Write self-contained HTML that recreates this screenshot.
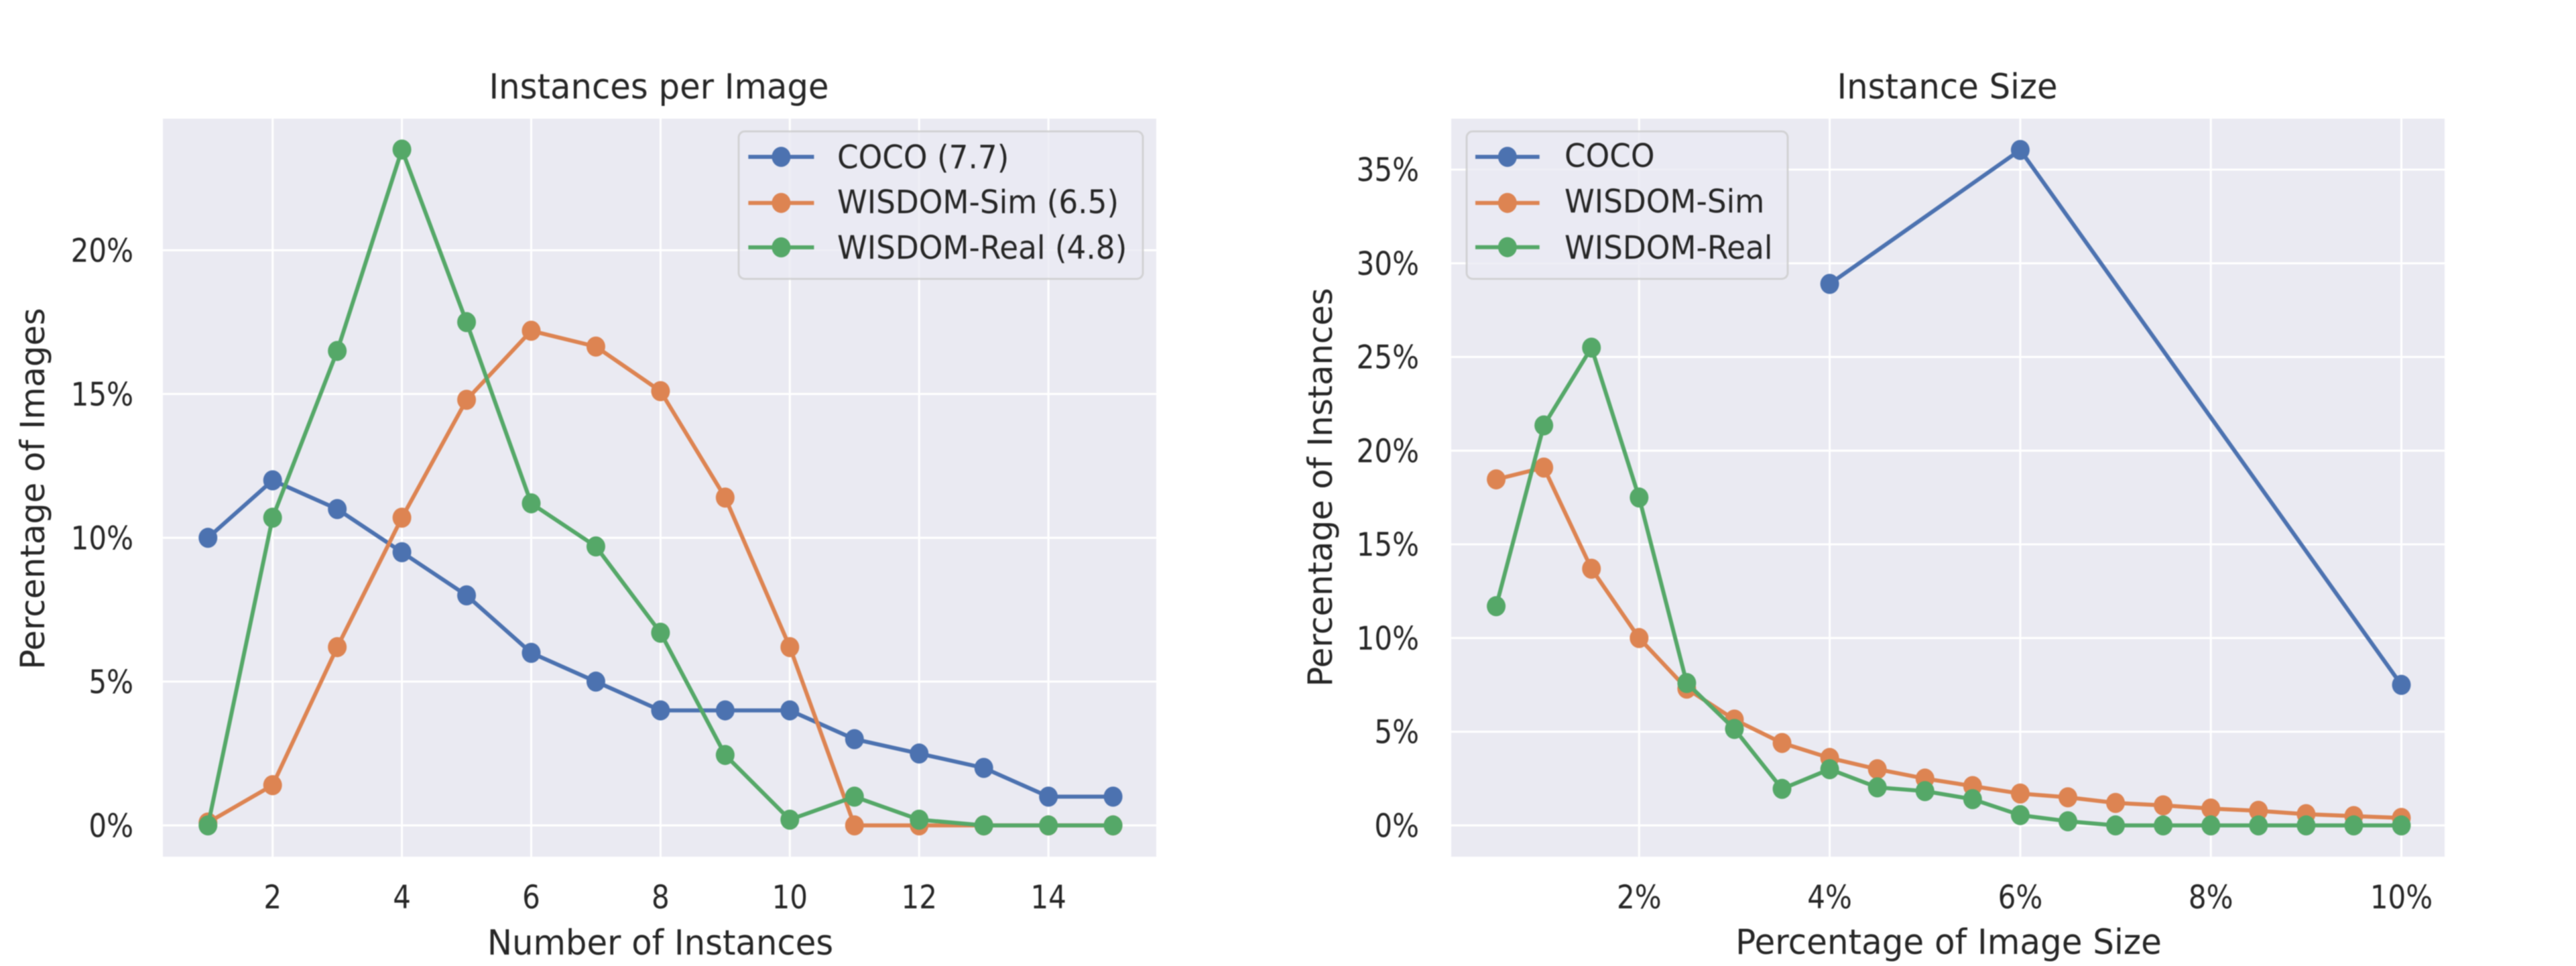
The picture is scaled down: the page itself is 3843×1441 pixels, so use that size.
<!DOCTYPE html>
<html lang="en">
<head>
<meta charset="utf-8">
<title>Instances per Image and Instance Size</title>
<style>
html,body{margin:0;padding:0;background:#fff;}
#chart{display:block;width:3843px;height:1441px;filter:blur(0.7px);}
text{font-family:"DejaVu Sans","Liberation Sans",sans-serif;fill:#262626;}
</style>
</head>
<body>
<svg id="chart" xmlns="http://www.w3.org/2000/svg" width="3843" height="1441" viewBox="0 0 3843 1441">
  <rect x="0" y="0" width="3843" height="1441" fill="#ffffff"/>

  <g id="panel-left">
    <rect x="243" y="177" width="1482" height="1101" fill="#eaeaf2"/>
    <g id="left-grid"></g>
    <g id="left-series"></g>
    <g id="left-ticks"></g>
    <text transform="translate(983,147) scale(0.965,1)" text-anchor="middle" font-size="51.5">Instances per Image</text>
    <text transform="translate(985,1424) scale(0.965,1)" text-anchor="middle" font-size="51.5">Number of Instances</text>
    <text transform="translate(66,729) rotate(-90)" text-anchor="middle" font-size="49.6">Percentage of Images</text>
    <g>
      <rect x="1102" y="196" width="603" height="220" rx="9" ry="9" fill="#eaeaf2" fill-opacity="0.8" stroke="#cccccc" stroke-opacity="0.8" stroke-width="3"/>
      <g id="left-legend-handles"></g>
      <text transform="translate(1249,251) scale(0.944,1)" font-size="48">COCO (7.7)</text>
      <text transform="translate(1249,318) scale(0.944,1)" font-size="48">WISDOM-Sim (6.5)</text>
      <text transform="translate(1249,386) scale(0.944,1)" font-size="48">WISDOM-Real (4.8)</text>
    </g>
  </g>

  <g id="panel-right">
    <rect x="2165" y="177" width="1482" height="1101" fill="#eaeaf2"/>
    <g id="right-grid"></g>
    <g id="right-series"></g>
    <g id="right-ticks"></g>
    <text transform="translate(2905,147) scale(0.965,1)" text-anchor="middle" font-size="51.5">Instance Size</text>
    <text transform="translate(2907,1423) scale(0.97,1)" text-anchor="middle" font-size="51.5">Percentage of Image Size</text>
    <text transform="translate(1987,727) rotate(-90)" text-anchor="middle" font-size="49.6">Percentage of Instances</text>
    <g>
      <rect x="2188" y="196" width="479" height="220" rx="9" ry="9" fill="#eaeaf2" fill-opacity="0.8" stroke="#cccccc" stroke-opacity="0.8" stroke-width="3"/>
      <g id="right-legend-handles"></g>
      <text transform="translate(2334,249) scale(0.944,1)" font-size="48">COCO</text>
      <text transform="translate(2334,317) scale(0.944,1)" font-size="48">WISDOM-Sim</text>
      <text transform="translate(2334,386) scale(0.944,1)" font-size="48">WISDOM-Real</text>
    </g>
  </g>
</svg>

<script>
// ---- Left chart data ----
const countCategories = [1, 2, 3, 4, 5, 6, 7, 8, 9, 10, 11, 12, 13, 14, 15];
const countCoco = [10, 12, 11, 9.5, 8, 6, 5, 4, 4, 4, 3, 2.5, 2, 1, 1];
const countSim = [0.1, 1.4, 6.2, 10.7, 14.8, 17.2, 16.65, 15.1, 11.4, 6.2, 0, 0, 0, 0, 0];
const countReal = [0, 10.7, 16.5, 23.5, 17.5, 11.2, 9.7, 6.7, 2.45, 0.2, 1, 0.2, 0, 0, 0];
const countXTicks = [2, 4, 6, 8, 10, 12, 14];
const countYTicks = [0, 5, 10, 15, 20];

// ---- Right chart data ----
const sizeCategories = [0.5, 1, 1.5, 2, 2.5, 3, 3.5, 4, 4.5, 5, 5.5, 6, 6.5, 7, 7.5, 8, 8.5, 9, 9.5, 10];
const sizeCocoCategories = [4, 6, 10];
const sizeCoco = [28.9, 36.05, 7.5];
const sizeSim = [18.47, 19.1, 13.7, 10, 7.3, 5.65, 4.4, 3.6, 3, 2.5, 2.1, 1.7, 1.5, 1.2, 1.07, 0.9, 0.78, 0.6, 0.5, 0.4];
const sizeReal = [11.7, 21.35, 25.5, 17.5, 7.6, 5.15, 1.95, 3, 2.03, 1.83, 1.4, 0.55, 0.22, 0, 0, 0, 0, 0, 0, 0];
const sizeXTicks = [2, 4, 6, 8, 10];
const sizeYTicks = [0, 5, 10, 15, 20, 25, 30, 35];

const SVG_NS = 'http://www.w3.org/2000/svg';
const BLUE = '#4c72b0';
const ORANGE = '#dd8452';
const GREEN = '#55a868';

// Axis functions
function xCount(v) { return 406.7 + (v - 2) * 96.45; }
function yCount(v) { return 1231.3 - v * 42.9; }
function xSize(v) { return 2445.3 + (v - 2) * 142.15; }
function ySize(v) { return 1231.3 - v * 27.95; }

function node(tag, attrs, parent) {
  const el = document.createElementNS(SVG_NS, tag);
  for (const k in attrs) el.setAttribute(k, attrs[k]);
  parent.appendChild(el);
  return el;
}

function drawGrid(parent, xTicks, yTicks, xFn, yFn, left, right, top, bottom) {
  xTicks.forEach(function (t) {
    const el = node('line', { x1: xFn(t), x2: xFn(t), y1: top, y2: bottom, stroke: '#ffffff', 'stroke-width': 3 }, parent);
    
    
  });
  yTicks.forEach(function (t) {
    const el = node('line', { x1: left, x2: right, y1: yFn(t), y2: yFn(t), stroke: '#ffffff', 'stroke-width': 3 }, parent);
    
    
  });
}

function drawTickLabels(parent, xTicks, yTicks, xFn, yFn, xSuffix, yRight) {
  xTicks.forEach(function (t) {
    const el = node('text', { transform: 'translate(' + xFn(t) + ',1355) scale(0.875,1)', 'text-anchor': 'middle', 'font-size': 48 }, parent);
    el.textContent = t + xSuffix;
    
    
  });
  yTicks.forEach(function (t) {
    const el = node('text', { transform: 'translate(' + yRight + ',' + (yFn(t) + 17) + ') scale(0.875,1)', 'text-anchor': 'end', 'font-size': 48 }, parent);
    el.textContent = t + '%';
    
    
  });
}

function drawSeries(parent, xs, ys, xFn, yFn, color) {
  const pts = xs.map(function (x, i) { return xFn(x) + ',' + yFn(ys[i]); }).join(' ');
  const line = node('polyline', { points: pts, fill: 'none', stroke: color, 'stroke-width': 6, 'stroke-linejoin': 'round' }, parent);
  
  
  xs.forEach(function (x, i) {
    const dot = node('ellipse', { cx: xFn(x), cy: yFn(ys[i]), rx: 14, ry: 15, fill: color }, parent);
    
    
  });
}

function drawHandle(parent, x1, x2, y, color) {
  const line = node('line', { x1: x1, x2: x2, y1: y, y2: y, stroke: color, 'stroke-width': 6 }, parent);
  
  
  const dot = node('ellipse', { cx: (x1 + x2) / 2, cy: y, rx: 14, ry: 15, fill: color }, parent);
  
  
}

// Left panel
const leftGrid = document.getElementById('left-grid');
const leftSeries = document.getElementById('left-series');
const leftTicks = document.getElementById('left-ticks');
const leftHandles = document.getElementById('left-legend-handles');
drawGrid(leftGrid, countXTicks, countYTicks, xCount, yCount, 243, 1725, 177, 1278);
drawTickLabels(leftTicks, countXTicks, countYTicks, xCount, yCount, '', 199);
drawSeries(leftSeries, countCategories, countCoco, xCount, yCount, BLUE);
drawSeries(leftSeries, countCategories, countSim, xCount, yCount, ORANGE);
drawSeries(leftSeries, countCategories, countReal, xCount, yCount, GREEN);
drawHandle(leftHandles, 1116.4, 1214.4, 234, BLUE);
drawHandle(leftHandles, 1116.4, 1214.4, 302.7, ORANGE);
drawHandle(leftHandles, 1116.4, 1214.4, 369, GREEN);

// Right panel
const rightGrid = document.getElementById('right-grid');
const rightSeries = document.getElementById('right-series');
const rightTicks = document.getElementById('right-ticks');
const rightHandles = document.getElementById('right-legend-handles');
drawGrid(rightGrid, sizeXTicks, sizeYTicks, xSize, ySize, 2165, 3647, 177, 1278);
drawTickLabels(rightTicks, sizeXTicks, sizeYTicks, xSize, ySize, '%', 2117);
drawSeries(rightSeries, sizeCocoCategories, sizeCoco, xSize, ySize, BLUE);
drawSeries(rightSeries, sizeCategories, sizeSim, xSize, ySize, ORANGE);
drawSeries(rightSeries, sizeCategories, sizeReal, xSize, ySize, GREEN);
drawHandle(rightHandles, 2201, 2296.7, 234, BLUE);
drawHandle(rightHandles, 2201, 2296.7, 302.7, ORANGE);
drawHandle(rightHandles, 2201, 2296.7, 368.7, GREEN);
</script>
</body>
</html>
